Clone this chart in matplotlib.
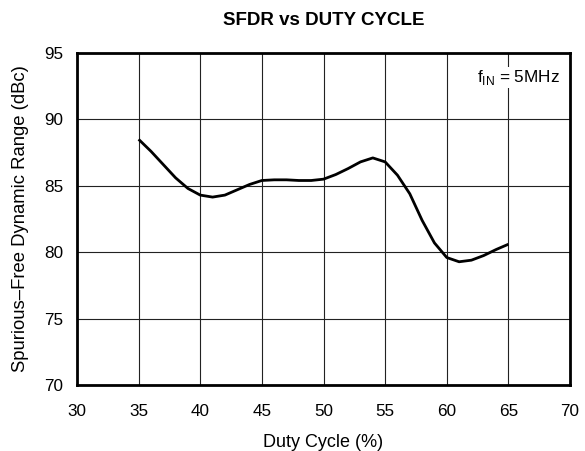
import matplotlib
matplotlib.use("Agg")
import matplotlib.pyplot as plt

duty_cycle = [35, 36, 37, 38, 39, 40, 41, 42, 43, 44, 45, 46, 47, 48, 49, 50,
              51, 52, 53, 54, 55, 56, 57, 58, 59, 60, 61, 62, 63, 64, 65]
sfdr = [88.5, 87.6, 86.6, 85.6, 84.8, 84.3, 84.15, 84.3, 84.7, 85.1, 85.4,
        85.45, 85.45, 85.4, 85.4, 85.5, 85.85, 86.3, 86.8, 87.1, 86.8, 85.8,
        84.4, 82.4, 80.7, 79.6, 79.28, 79.4, 79.75, 80.2, 80.6]
x_ticks = [30, 35, 40, 45, 50, 55, 60, 65, 70]
y_ticks = [70, 75, 80, 85, 90, 95]

plt.rcParams['font.family'] = ['Liberation Sans', 'DejaVu Sans']

fig = plt.figure(figsize=(5.85, 4.51), dpi=100)
ax = fig.add_axes([0.1316, 0.1463, 0.8428, 0.7362])

ax.plot(duty_cycle, sfdr, color='black', lw=2.0, solid_joinstyle='round',
        solid_capstyle='butt', zorder=3)

ax.set_xlim(30, 70)
ax.set_ylim(70, 95)
ax.set_xticks(x_ticks)
ax.set_yticks(y_ticks)
ax.grid(True, color='#222222', lw=0.8)
ax.tick_params(length=0, labelsize=12.3)
ax.tick_params(axis='x', pad=14)
ax.tick_params(axis='y', pad=10)
for s in ax.spines.values():
    s.set_linewidth(2.0)

ax.set_xlabel('Duty Cycle (%)', fontsize=13, labelpad=10.5)
ax.set_ylabel('Spurious\u2013Free Dynamic Range (dBc)', fontsize=13.3, labelpad=11)
ax.set_title('SFDR vs DUTY CYCLE', fontsize=13.5, fontweight='bold', pad=20)

ax.text(0.98, 0.955, r'f$_{\mathregular{IN}}$ = 5MHz', transform=ax.transAxes,
        ha='right', va='top', fontsize=12.3,
        bbox=dict(facecolor='white', edgecolor='none', pad=1.0), zorder=4)

fig.savefig('out.png', dpi=100)
